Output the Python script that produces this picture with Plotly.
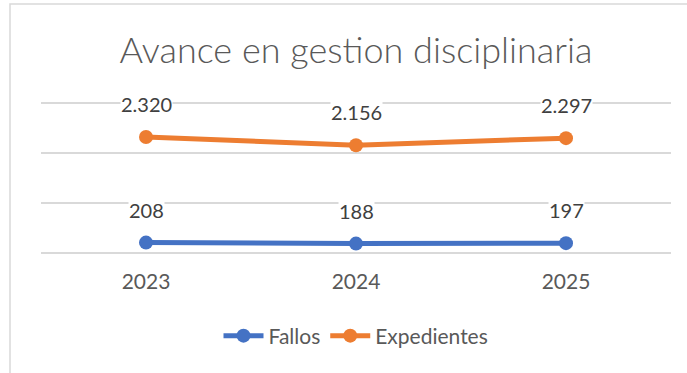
import plotly.graph_objects as go

years = ["2023", "2024", "2025"]
fallos = [208, 188, 197]
expedientes = [2320, 2156, 2297]
series = [("Fallos", fallos, "#4472C4"), ("Expedientes", expedientes, "#ED7D31")]

W, H = 687, 373
L, R, T, B = 41, 16, 100, 120
YMAX = 3060  # leaves a little room so the 3000 gridline is drawn

fig = go.Figure()
for name, vals, color in series:
    fig.add_trace(go.Scatter(
        x=years, y=vals, name=name, mode="lines+markers",
        line=dict(color=color, width=5),
        marker=dict(color=color, size=14),
    ))
    # value labels above each point (category index as x position)
    for i, v in enumerate(vals):
        fig.add_annotation(
            x=i, y=v, xref="x", yref="y",
            text=f"{v:,}".replace(",", "."), showarrow=False,
            yshift=33, bgcolor="white", borderpad=0,
            font=dict(family="Lato", size=20, color="#404040"),
        )

# chart outline
ph = H - T - B
fig.add_shape(
    type="rect", xref="paper", yref="paper",
    x0=(10 - L) / (W - L - R), x1=(W + 20 - L) / (W - L - R),
    y0=-(B + 20) / ph, y1=((H - B) - 4) / ph,
    line=dict(color="#D9D9D9", width=1.5), fillcolor="rgba(0,0,0,0)", layer="below",
)

fig.update_layout(
    width=W, height=H,
    margin=dict(l=L, r=R, t=T, b=B),
    paper_bgcolor="white", plot_bgcolor="white",
    title=dict(
        text="Avance en gestion disciplinaria",
        x=0.5, xref="paper", y=1 - 50 / H, yref="container",
        xanchor="center", yanchor="middle",
        font=dict(family="Lato", size=36, color="#595959", weight=300),
    ),
    xaxis=dict(
        type="category", range=[-0.5, 2.5], showgrid=False,
        showline=False, ticks="", zeroline=False,
        tickfont=dict(family="Lato", size=21, color="#595959"),
        ticklabelstandoff=14,
    ),
    yaxis=dict(
        range=[0, YMAX], tickvals=[0, 1000, 2000, 3000], showticklabels=False,
        showgrid=True, gridcolor="#D9D9D9", gridwidth=1.5,
        zeroline=True, zerolinecolor="#D9D9D9", zerolinewidth=1.5,
    ),
    showlegend=True,
    legend=dict(
        orientation="h", x=0.5, xanchor="center", y=1 - 336 / H, yref="container",
        yanchor="middle", font=dict(family="Lato", size=21, color="#595959"),
        itemwidth=40,
    ),
)

fig.write_html("out.html")
